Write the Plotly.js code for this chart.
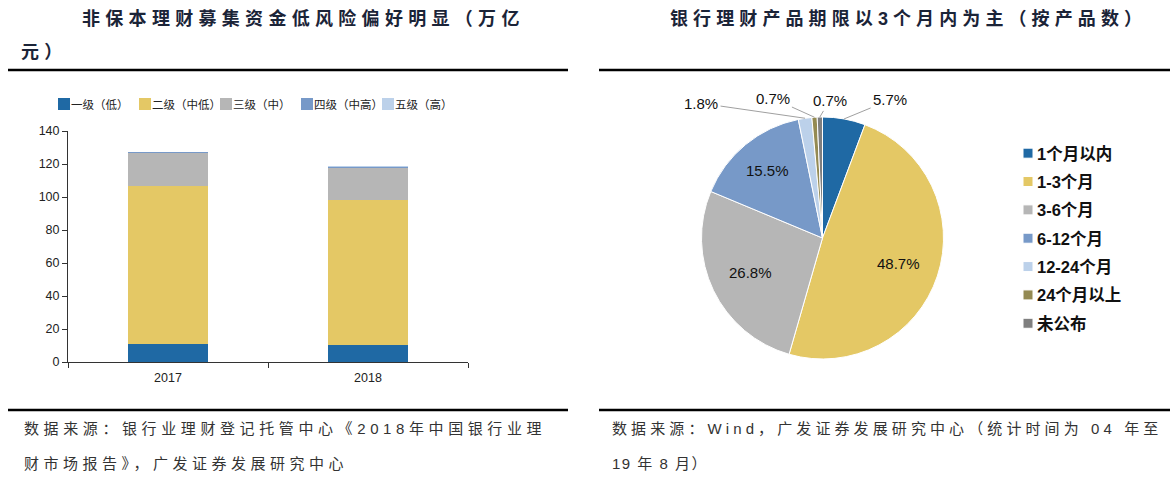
<!DOCTYPE html>
<html>
<head>
<meta charset="utf-8">
<script src="https://cdn.plot.ly/plotly-3.0.1.min.js"></script>
<style>
body{margin:0;background:#fff}
.annotation[data-index="0"] .annotation-text,
.annotation[data-index="1"] .annotation-text{letter-spacing:5.3px}
.annotation[data-index="2"] .annotation-text{letter-spacing:5.1px}
.annotation[data-index="3"] .annotation-text{letter-spacing:4.6px}
.annotation[data-index="4"] .annotation-text{letter-spacing:4.5px}
.annotation[data-index="5"] .annotation-text{letter-spacing:4.1px}
.annotation[data-index="6"] .annotation-text{letter-spacing:1.5px}
path.legendbar{d:path("M3.6 3.6H-3.6V-3.6H3.6Z")}
path.legendpie{d:path("M5 5H-5V-5H5Z")}
text.legendtext{transform:translate(-13px,0)}
text.legend2text{font-size:16.5px !important;transform:translate(-11px,-1.2px)}
</style>
</head>
<body>
<div id="chart" style="width:1173px;height:481px"></div>
<script>
// ---- data ----
const years = ['2017', '2018'];
const riskLevels = ['一级（低）', '二级（中低）', '三级（中）', '四级（中高）', '五级（高）'];
const level1 = [10.8, 10.3];
const level2 = [95.8, 87.8];
const level3 = [19.8, 19.2];
const level4 = [0.8, 1.0];
const level5 = [0.2, 0.2];
const termLabels = ['1个月以内', '1-3个月', '3-6个月', '6-12个月', '12-24个月', '24个月以上', '未公布'];
const termShares = [5.7, 48.7, 26.8, 15.5, 1.8, 0.7, 0.7];
const yTicks = [0, 20, 40, 60, 80, 100, 120, 140];

const W = 1173, H = 481;
const px = v => v / W;
const py = v => 1 - v / H;

const riskColors = ['#1f69a4', '#e4c865', '#b6b6b6', '#7799c8', '#bcd1ea'];
const termColors = ['#1f69a4', '#e4c865', '#b6b6b6', '#7799c8', '#bcd1ea', '#948a53', '#7f7f7f'];
const levelData = [level1, level2, level3, level4, level5];

const latin = 'Liberation Sans, Arial, Noto Sans CJK SC, sans-serif';
const cjk = 'Liberation Sans, Noto Sans CJK SC, sans-serif';

// pie geometry (layout)
const pieX = [701.5, 943.5], pieY = [117, 359];
const pieCx = (pieX[0] + pieX[1]) / 2, pieCy = (pieY[0] + pieY[1]) / 2;
const pieR = Math.min(pieX[1] - pieX[0], pieY[1] - pieY[0]) / 2;
// label placement: outside labels get [dx, dy] text offset from the slice edge,
// inside labels sit on the slice bisector at a fraction of the radius
const outsideLabelOffsets = {0: [46, -19], 4: [-104, -15], 5: [-42, -19], 6: [10, -17]};
const insideLabelRadius = {1: 0.66, 2: 0.66, 3: 0.72};

const traces = levelData.map((vals, i) => ({
  type: 'bar',
  x: years,
  y: vals,
  name: riskLevels[i],
  marker: {color: riskColors[i], line: {width: 0}},
  xaxis: 'x', yaxis: 'y',
  legend: 'legend',
  hoverinfo: 'skip'
}));

const pctText = termShares.map(v => v.toFixed(1) + '%');
traces.push({
  type: 'pie',
  labels: termLabels,
  values: termShares,
  textinfo: 'none',
  sort: false,
  direction: 'clockwise',
  rotation: 0,
  marker: {colors: termColors, line: {color: '#ffffff', width: 1}},
  domain: {x: [px(pieX[0]), px(pieX[1])], y: [py(pieY[1]), py(pieY[0])]},
  legend: 'legend2',
  hoverinfo: 'skip'
});

const titleFont = {family: cjk, size: 18, color: '#1b2438', weight: 'bold'};
const srcFont = {family: cjk, size: 15, color: '#333333'};
const pctFont = {family: latin, size: 15, color: '#111'};

const ann = (text, x, y, font) => ({
  text, x: px(x), y: py(y), xref: 'paper', yref: 'paper',
  xanchor: 'left', yanchor: 'middle', align: 'left', showarrow: false, font
});

const annotations = [
  ann('非保本理财募集资金低风险偏好明显（万亿', 80, 18, titleFont),
  ann('元）', 19, 52, titleFont),
  ann('银行理财产品期限以3个月内为主（按产品数）', 668, 18, titleFont),
  ann('数据来源：银行业理财登记托管中心《2018年中国银行业理', 22, 428, srcFont),
  ann('财市场报告》，广发证券发展研究中心', 22, 463, srcFont),
  ann('数据来源：Wind，广发证券发展研究中心（统计时间为 04 年至', 610, 428, srcFont),
  ann('19 年 8 月）', 610, 463, srcFont)
];

// percentage labels, positioned from the slice angles derived from the data
const total = termShares.reduce((a, b) => a + b, 0);
let cum = 0;
termShares.forEach((v, i) => {
  const mid = (cum + v / 2) / total * 2 * Math.PI;
  cum += v;
  if (i in outsideLabelOffsets) {
    const ex = pieCx + pieR * Math.sin(mid);
    const ey = pieCy - pieR * Math.cos(mid);
    const [dx, dy] = outsideLabelOffsets[i];
    annotations.push({
      text: pctText[i], x: px(ex), y: py(ey), xref: 'paper', yref: 'paper',
      showarrow: true, ax: dx, ay: dy, arrowhead: 0, arrowwidth: 1, arrowcolor: '#a0a0a0',
      standoff: 0, startstandoff: 1, font: pctFont
    });
  } else {
    const r = pieR * insideLabelRadius[i];
    annotations.push({
      text: pctText[i], x: px(pieCx + r * Math.sin(mid)), y: py(pieCy - r * Math.cos(mid)),
      xref: 'paper', yref: 'paper', xanchor: 'center', yanchor: 'middle',
      showarrow: false, font: pctFont
    });
  }
});

const rule = (x0, x1, y) => ({
  type: 'line', xref: 'paper', yref: 'paper',
  x0: px(x0), x1: px(x1), y0: py(y), y1: py(y),
  line: {color: '#000000', width: 2.5}
});

const layout = {
  width: W, height: H,
  margin: {l: 0, r: 0, t: 0, b: 0},
  paper_bgcolor: '#ffffff', plot_bgcolor: '#ffffff',
  barmode: 'stack',
  bargap: 0.6,
  showlegend: true,
  xaxis: {
    domain: [px(68), px(468)], anchor: 'y', type: 'category',
    showline: true, linecolor: '#333', linewidth: 1,
    ticks: 'outside', ticklen: 5, tickcolor: '#333', tickson: 'boundaries',
    ticklabelstandoff: 4,
    tickfont: {family: latin, size: 12.5, color: '#222'},
    showgrid: false, zeroline: false, fixedrange: true
  },
  yaxis: {
    domain: [py(362), py(131)], anchor: 'x',
    range: [0, 140], tickvals: yTicks, ticktext: yTicks.map(String),
    showline: true, linecolor: '#333', linewidth: 1,
    ticks: 'outside', ticklen: 5, tickcolor: '#333',
    tickfont: {family: latin, size: 12.5, color: '#222'},
    showgrid: false, zeroline: false, fixedrange: true
  },
  legend: {
    orientation: 'h', x: px(44), y: py(104), xanchor: 'left', yanchor: 'middle',
    traceorder: 'normal', font: {family: 'Noto Sans CJK SC, sans-serif', size: 11.5, color: '#222'},
    bgcolor: 'rgba(0,0,0,0)', entrywidth: 36, itemwidth: 30
  },
  legend2: {
    orientation: 'v', x: px(1008), y: py(134), xanchor: 'left', yanchor: 'top',
    traceorder: 'normal', font: {family: cjk, size: 19.5, color: '#111', weight: 'bold'},
    bgcolor: 'rgba(0,0,0,0)', itemwidth: 30
  },
  annotations,
  shapes: [rule(8, 568, 70), rule(599, 1170, 70), rule(8, 568, 410), rule(599, 1170, 410)]
};

Plotly.newPlot('chart', traces, layout, {staticPlot: true, displayModeBar: false});
</script>
</body>
</html>
